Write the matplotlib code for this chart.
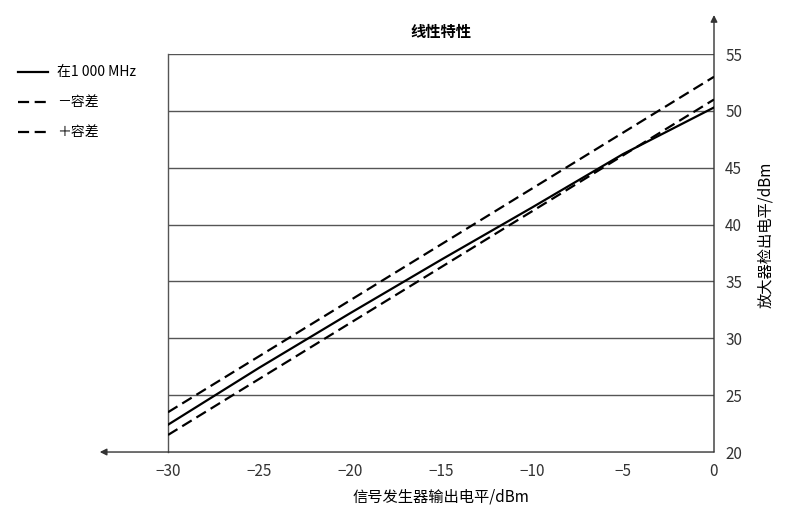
import matplotlib
matplotlib.use("Agg")
import matplotlib.pyplot as plt

plt.rcParams['font.family'] = ['Noto Sans CJK SC', 'DejaVu Sans']
plt.rcParams['axes.unicode_minus'] = True

# 数据
x_main = [-30, -25, -20, -15, -10, -5, 0]
y_main = [22.4, 27.4, 32.2, 36.9, 41.5, 46.2, 50.3]
x_tol = [-30, 0]
y_minus = [21.5, 51.0]   # －容差
y_plus = [23.5, 53.0]    # ＋容差
x_ticks = [-30, -25, -20, -15, -10, -5, 0]
y_ticks = [20, 25, 30, 35, 40, 45, 50, 55]
labels = ['在1 000 MHz', '－容差', '＋容差']

fig = plt.figure(figsize=(8, 5.28), dpi=100)
ax = fig.add_axes([0.21, 0.1439, 0.6825, 0.7538])

ax.set_xlim(-30, 0)
ax.set_ylim(20, 55)

# 网格横线
for yv in y_ticks[1:]:
    ax.axhline(yv, color='#555555', lw=1.0, zorder=1)

for s in ['top', 'bottom', 'right']:
    ax.spines[s].set_visible(False)
ax.spines['left'].set_color('#555555')
ax.spines['left'].set_linewidth(1.0)

# 坐标轴箭头
ax.annotate('', xy=(-0.125, 0), xytext=(1.0, 0), xycoords='axes fraction',
            arrowprops=dict(arrowstyle='-|>', color='#333333', lw=1.0,
                            mutation_scale=10, shrinkA=0, shrinkB=0))
ax.annotate('', xy=(1.0, 1.098), xytext=(1.0, 0), xycoords='axes fraction',
            arrowprops=dict(arrowstyle='-|>', color='#333333', lw=1.0,
                            mutation_scale=10, shrinkA=0, shrinkB=0))

ax.plot(x_main, y_main, color='black', lw=1.6, zorder=3, label=labels[0])
ax.plot(x_tol, y_minus, color='black', lw=1.6, dashes=(5, 2.5), zorder=3, label=labels[1])
ax.plot(x_tol, y_plus, color='black', lw=1.6, dashes=(5, 2.5), zorder=3, label=labels[2])

ax.set_xticks(x_ticks)
ax.set_yticks(y_ticks)
ax.tick_params(axis='x', length=0, pad=8, labelsize=11, colors='#333333')
ax.tick_params(axis='y', length=0, pad=8, labelsize=11, colors='#333333',
               left=False, labelleft=False, right=False, labelright=True)

ax.set_xlabel('信号发生器输出电平/dBm', fontsize=11, labelpad=6)
ax.yaxis.set_label_position('right')
ax.set_ylabel('放大器检出电平/dBm', fontsize=11)
ax.yaxis.set_label_coords(1.078, 0.545)
ax.set_title('线性特性', fontsize=11, fontweight='bold', pad=12)

leg = ax.legend(loc='upper left', bbox_to_anchor=(0.0225, 0.876),
                bbox_transform=fig.transFigure, frameon=False, fontsize=10,
                borderpad=0, borderaxespad=0,
                handlelength=2.15, handletextpad=0.65, labelspacing=1.15)

fig.savefig('out.png', dpi=100)
